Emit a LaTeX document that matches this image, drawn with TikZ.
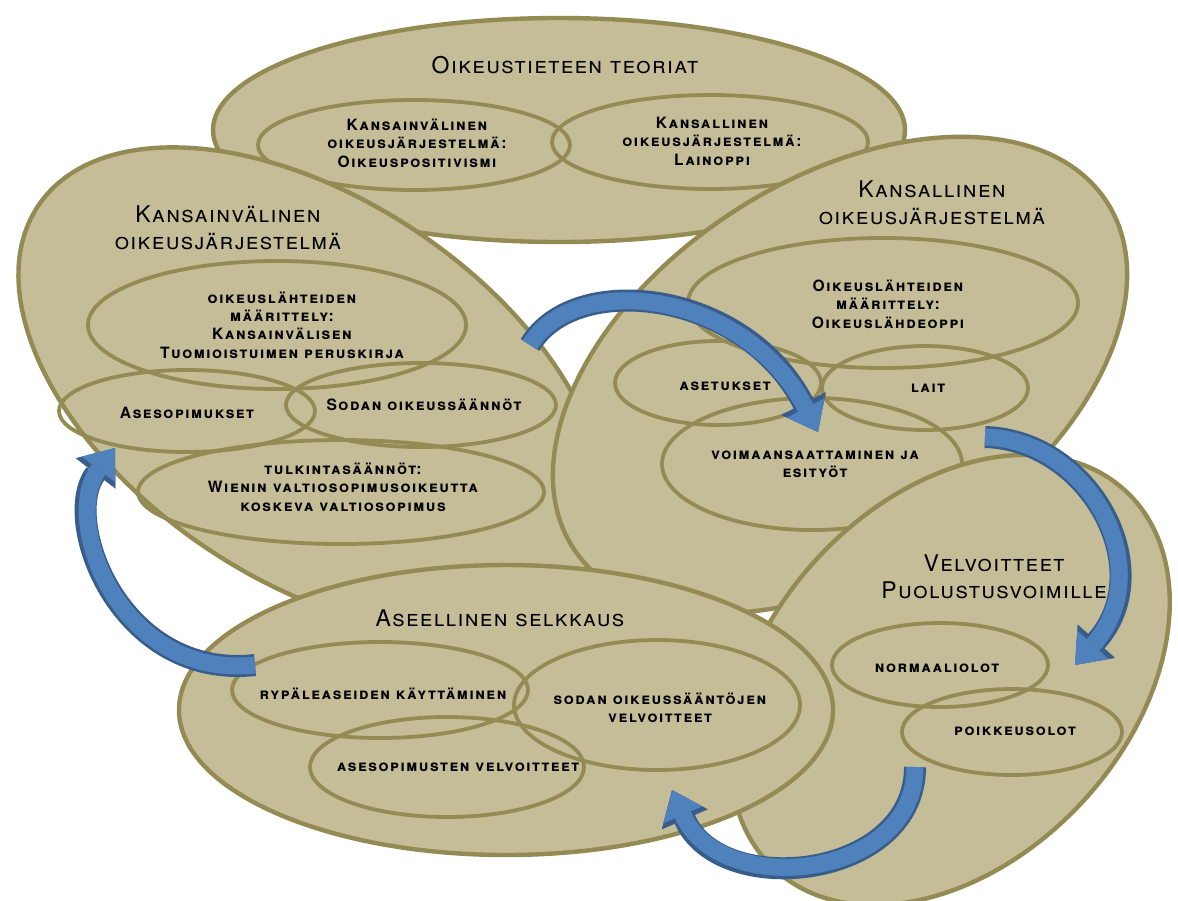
\documentclass[tikz,border=0pt]{standalone}
\usepackage{fontspec}
\newfontfamily\gyreheros{TeX Gyre Heros}[LetterSpace=6]
\newfontfamily\gyrelabel{TeX Gyre Heros}[LetterSpace=10]
\usetikzlibrary{arrows.meta}

\definecolor{tanfill}{HTML}{C4BD97}
\definecolor{tanline}{HTML}{948A54}
\definecolor{arrowfill}{HTML}{4F81BD}
\definecolor{arrowedge}{HTML}{385D8A}

\tikzset{
  blob/.style={fill=tanfill,draw=tanline,line width=2.2pt},
  innerring/.style={draw=tanline,line width=1.9pt},
  bigtitle/.style={font=\gyreheros\scshape\fontsize{11.5}{13.5}\selectfont,align=center,inner sep=1pt},
  smalltag/.style={font=\gyrelabel\bfseries\scshape\fontsize{7.8}{9.2}\selectfont,align=center,inner sep=1pt},
  arrowrim/.style={line width=11pt,draw=arrowedge,-{Triangle[width=25pt,length=16pt,line width=0.4pt]}},
  arrowcore/.style={line width=8.5pt,draw=arrowfill,-{Triangle[width=21pt,length=13.5pt,line width=0.4pt]}},
}

\begin{document}
\begin{tikzpicture}[x=0.5pt,y=-0.5pt]
\useasboundingbox (0,0) rectangle (1178,900);
\fill[white] (0,0) rectangle (1178,900);

% theories
\draw[blob] (559,130) ellipse [x radius=346, y radius=112];
\draw[innerring] (414,145) ellipse [x radius=156, y radius=45];
\draw[innerring] (710,142) ellipse [x radius=158, y radius=47];
\node[bigtitle] (teoriat) at (565,65) {Oikeustieteen teoriat};
\node[smalltag] (positivismi) at (417,143) {Kansainvälinen\\oikeusjärjestelmä:\\Oikeuspositivismi};
\node[smalltag] (lainoppi) at (712,141) {Kansallinen\\oikeusjärjestelmä:\\Lainoppi};

% international legal system
\draw[blob] (312,390) ellipse [x radius=330, y radius=190, rotate=-34];
\draw[innerring] (277,325) ellipse [x radius=189, y radius=64];
\draw[innerring] (187,411) ellipse [x radius=128, y radius=41];
\draw[innerring] (421,405) ellipse [x radius=135, y radius=42];
\draw[innerring] (341,492) ellipse [x radius=203, y radius=52];
\node[bigtitle] (kvtitle) at (228,228) {Kansainvälinen\\oikeusjärjestelmä};
\node[smalltag] (kvlahteet) at (282,325) {oikeuslähteiden\\määrittely:\\Kansainvälisen\\Tuomioistuimen peruskirja};
\node[smalltag] (asesop) at (187,413) {Asesopimukset};
\node[smalltag] (sodansaannot) at (424,405) {Sodan oikeussäännöt};
\node[smalltag] (tulkinta) at (343,487) {tulkintasäännöt:\\Wienin valtiosopimusoikeutta\\koskeva valtiosopimus};

% national legal system
\draw[blob] (840,375) ellipse [x radius=318, y radius=195, rotate=33];
\draw[innerring] (883,303) ellipse [x radius=195, y radius=65];
\draw[innerring] (718,383) ellipse [x radius=103, y radius=42];
\draw[innerring] (925,388) ellipse [x radius=103, y radius=42];
\draw[innerring] (812,464) ellipse [x radius=150, y radius=66];
\node[bigtitle] (kanstitle) at (932,203) {Kansallinen\\oikeusjärjestelmä};
\node[smalltag] (kanslahteet) at (888,304) {Oikeuslähteiden\\määrittely:\\Oikeuslähdeoppi};
\node[smalltag] (asetukset) at (725,386) {asetukset};
\node[smalltag] (lait) at (928,388) {lait};
\node[smalltag] (esityot) at (815,464) {voimaansaattaminen ja\\esityöt};

% obligations
\draw[blob] (950,680) ellipse [x radius=258, y radius=180, rotate=47];
\draw[innerring] (940,665) ellipse [x radius=108, y radius=42];
\draw[innerring] (1012,732) ellipse [x radius=110, y radius=43];
\node[bigtitle] (velvtitle) at (994,577) {Velvoitteet\\Puolustusvoimille};
\node[smalltag] (normaali) at (937,668) {normaaliolot};
\node[smalltag] (poikkeus) at (1015,731) {poikkeusolot};

% armed conflict
\draw[blob] (506,710) ellipse [x radius=327, y radius=145];
\draw[innerring] (380,690) ellipse [x radius=148, y radius=48];
\draw[innerring] (657,705) ellipse [x radius=143, y radius=65];
\draw[innerring] (447,767) ellipse [x radius=137, y radius=50];
\node[bigtitle] (selkkaus) at (500,618) {Aseellinen selkkaus};
\node[smalltag] (rypale) at (383,694) {rypäleaseiden käyttäminen};
\node[smalltag] (sodanvelv) at (660,708) {sodan oikeussääntöjen\\velvoitteet};
\node[smalltag] (asevelv) at (458,767) {asesopimusten velvoitteet};

% curved arrows
\coordinate (a1s) at (530,345);  \coordinate (a1e) at (818,432);
\coordinate (a2s) at (985,437);  \coordinate (a2e) at (1075,665);
\coordinate (a3s) at (915,767);  \coordinate (a3e) at (672,790);
\coordinate (a4s) at (255,665);  \coordinate (a4e) at (115,448);
\foreach \s in {arrowrim,arrowcore}{
  \draw[\s] (a1s) .. controls (575,270) and (745,290) .. (a1e);
  \draw[\s] (a2s) .. controls (1090,440) and (1160,570) .. (a2e);
  \draw[\s] (a3s) .. controls (915,880) and (720,900) .. (a3e);
  \draw[\s] (a4s) .. controls (120,680) and (60,520) .. (a4e);
}
\end{tikzpicture}
\end{document}
